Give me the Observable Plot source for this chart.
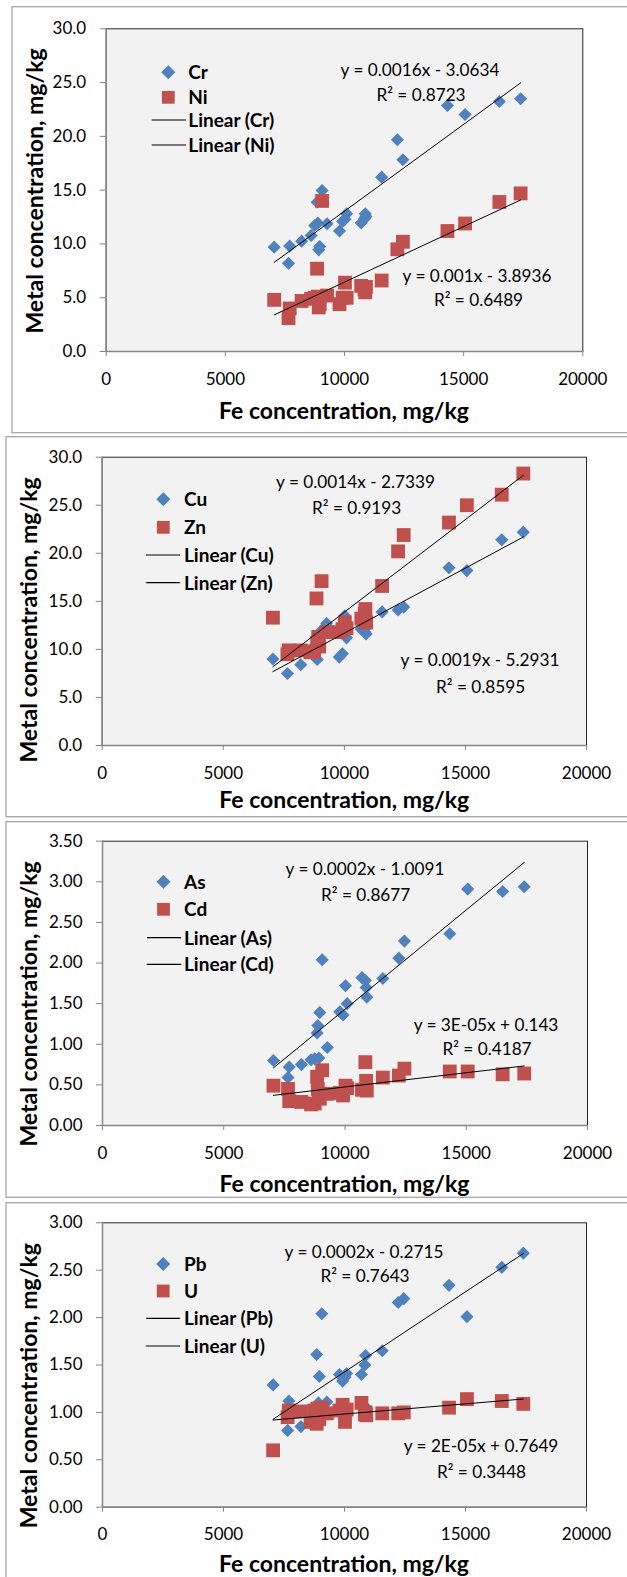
<!DOCTYPE html>
<html>
<head>
<meta charset="utf-8">
<script src="https://cdn.jsdelivr.net/npm/d3@7"></script>
<script src="https://cdn.jsdelivr.net/npm/@observablehq/plot@0.6"></script>
<style>
html, body { margin: 0; padding: 0; background: #fff; overflow: hidden; }
#page { position: relative; width: 627px; height: 1577px; overflow: hidden; font-family: Lato, sans-serif; }
#page g[aria-label="x-axis tick label"] text, #page g[aria-label="y-axis tick label"] text,
#page g[aria-label="x-axis tick label"], #page g[aria-label="y-axis tick label"] { font-size: 17px; }
</style>
</head>
<body>
<div id="page"></div>
<script>
// ---- data ----
const fe = [7050, 7650, 7700, 8200, 8600, 8750, 8850, 8880, 8920, 8960, 9060, 9270, 9790, 9920, 10020, 10090, 10700, 10840, 10870, 10900, 11560, 12220, 12450, 14320, 15060, 16500, 17390];
const cr = [9.70, 8.20, 9.80, 10.26, 10.79, 11.71, 13.88, 11.93, 9.45, 9.76, 14.97, 11.87, 11.20, 12.10, 12.30, 12.80, 11.95, 12.35, 12.80, 12.55, 16.21, 19.68, 17.82, 22.87, 22.03, 23.24, 23.49];
const ni = [4.8, 3.1, 4.0, 4.7, 4.9, 5.0, 7.7, 5.1, 4.1, 4.4, 14.0, 5.2, 4.4, 5.0, 6.4, 5.0, 6.1, 5.8, 5.5, 6.0, 6.6, 9.5, 10.2, 11.2, 11.9, 13.9, 14.7];
const cu = [9.0, 7.5, 9.6, 8.4, 9.9, 10.2, 10.6, 8.95, 11.5, 11.0, 12.0, 12.7, 9.2, 9.55, 13.5, 11.2, 12.1, 11.8, 12.2, 11.6, 13.9, 14.1, 14.4, 18.5, 18.2, 21.4, 22.2];
const zn = [13.3, 9.5, 9.9, 9.9, 9.7, 9.8, 15.3, 10.7, 11.3, 10.3, 17.1, 11.8, 11.8, 12.1, 12.8, 12.2, 13.2, 13.7, 14.2, 12.8, 16.6, 20.2, 21.9, 23.2, 25.0, 26.1, 28.3];
const arsenic = [0.80, 0.59, 0.72, 0.75, 0.81, 0.82, 1.14, 1.23, 0.83, 1.39, 2.04, 0.96, 1.40, 1.36, 1.72, 1.50, 1.82, 1.785, 1.70, 1.58, 1.81, 2.06, 2.27, 2.36, 2.91, 2.88, 2.94];
const cd = [0.49, 0.45, 0.30, 0.29, 0.26, 0.27, 0.60, 0.45, 0.39, 0.33, 0.68, 0.39, 0.40, 0.37, 0.49, 0.46, 0.44, 0.78, 0.55, 0.43, 0.59, 0.615, 0.70, 0.665, 0.665, 0.63, 0.64];
const pb = [1.29, 0.81, 1.12, 0.85, 0.95, 1.00, 1.61, 1.08, 1.10, 1.38, 2.04, 1.11, 1.40, 1.33, 1.37, 1.41, 1.40, 1.50, 1.60, 1.05, 1.65, 2.16, 2.20, 2.34, 2.01, 2.53, 2.68];
const u = [0.60, 0.95, 1.02, 1.01, 0.90, 1.02, 0.88, 1.04, 1.00, 0.93, 1.05, 0.99, 1.02, 1.08, 0.90, 1.03, 1.10, 0.98, 1.00, 0.97, 0.99, 0.99, 1.00, 1.05, 1.14, 1.12, 1.09];

const seriesNames = [["Cr", "Ni"], ["Cu", "Zn"], ["As", "Cd"], ["Pb", "U"]];
const seriesValues = [[cr, ni], [cu, zn], [arsenic, cd], [pb, u]];
const xTicks = [0, 5000, 10000, 15000, 20000];
const yTicks = [[0, 5, 10, 15, 20, 25, 30], [0, 5, 10, 15, 20, 25, 30], [0, 0.5, 1, 1.5, 2, 2.5, 3, 3.5], [0, 0.5, 1, 1.5, 2, 2.5, 3]];
const yDecimals = [1, 1, 2, 2];
const eqLabels = [["y = 0.0016x - 3.0634", "y = 0.001x - 3.8936"], ["y = 0.0014x - 2.7339", "y = 0.0019x - 5.2931"], ["y = 0.0002x - 1.0091", "y = 3E-05x + 0.143"], ["y = 0.0002x - 0.2715", "y = 2E-05x + 0.7649"]];
const r2Labels = [["R² = 0.8723", "R² = 0.6489"], ["R² = 0.9193", "R² = 0.8595"], ["R² = 0.8677", "R² = 0.4187"], ["R² = 0.7643", "R² = 0.3448"]];
const xTitle = "Fe concentration, mg/kg";
const yTitle = "Metal concentration, mg/kg";

// ---- layout (pixels) ----
const BLUE = "#4F81BD", RED = "#C0504D";
const FONT = "Lato, sans-serif";
const layout = [
  { top: 0, h: 432, ml: 105.7, mr: 44.7, mt: 28.3, mb: 81, border: [12, 6.7, 432.7],
    legend: { cx: 168.3, rows: [72.3, 97.3, 120, 145], lx: [151.7, 186], tx: 188.3 },
    eq: [[420, 70, 421, 95], [477, 276, 478.5, 300]], xt: [344, 419.3], yt: [43.2, 191] },
  { top: 437, h: 380, ml: 101.7, mr: 41, mt: 19.7, mb: 72, border: [6, 436.7, 816.7],
    legend: { cx: 163.3, rows: [499.3, 527.3, 555, 582.7], lx: [146, 180], tx: 184 },
    eq: [[355.5, 481.7, 356.7, 507.7], [480, 660, 480.6, 686.7]], xt: [344.3, 808], yt: [36.8, 620] },
  { top: 822, h: 376, ml: 102, mr: 40, mt: 18.7, mb: 73, border: [6, 821.7, 1197.3],
    legend: { cx: 163.5, rows: [881.7, 909.3, 937.7, 964.3], lx: [147, 181], tx: 184 },
    eq: [[365, 869.3, 365.7, 895], [486, 1025, 487, 1049.3]], xt: [344.5, 1191.7], yt: [37, 1004] },
  { top: 1203, h: 374, ml: 102, mr: 41, mt: 19.3, mb: 70.3, border: [6, 1202.7, 1590],
    legend: { cx: 163.2, rows: [1264, 1291, 1318.3, 1346], lx: [146, 180], tx: 184 },
    eq: [[364, 1251.7, 365, 1276], [481, 1446, 481.5, 1471.7]], xt: [344, 1572.3], yt: [37, 1385.7] }
];

const page = document.getElementById("page");

layout.forEach((L, k) => {
  const blue = seriesValues[k][0].map((v, i) => ({ fe: fe[i], v, metal: seriesNames[k][0] }));
  const red = seriesValues[k][1].map((v, i) => ({ fe: fe[i], v, metal: seriesNames[k][1] }));
  const yMax = yTicks[k][yTicks[k].length - 1];
  const svg = Plot.plot({
    width: 627,
    height: L.h,
    marginLeft: L.ml, marginRight: L.mr, marginTop: L.mt, marginBottom: L.mb,
    style: { background: "transparent", fontFamily: FONT, fontSize: "17px", color: "#000", overflow: "visible" },
    x: { domain: [0, 20000] },
    y: { domain: [0, yMax] },
    marks: [
      Plot.frame({ fill: "#f2f2f2", stroke: "#262626", strokeWidth: 1 }),
      Plot.axisX({ ticks: xTicks, tickFormat: d => String(d), tickSize: 5, tickPadding: 16, stroke: "#868686", fill: "#000", fontSize: 17, label: null }),
      Plot.axisY({ ticks: yTicks[k], tickFormat: d => d.toFixed(yDecimals[k]), tickSize: 6, tickPadding: 14, stroke: "#868686", fill: "#000", fontSize: 17, label: null }),
      Plot.ruleY([0], { stroke: "#868686", strokeWidth: 1.5 }),
      Plot.ruleX([0], { stroke: "#868686", strokeWidth: 1.5 }),
      Plot.dot(blue, { x: "fe", y: "v", symbol: "diamond2", r: 5.9, fill: BLUE }),
      Plot.dot(red, { x: "fe", y: "v", symbol: "square", r: 7.8, fill: RED }),
      Plot.linearRegressionY(blue.concat(red), { x: "fe", y: "v", z: "metal", stroke: "#000", strokeWidth: 1, ci: 0 })
    ]
  });
  svg.style.position = "absolute";
  svg.style.left = "0px";
  svg.style.top = L.top + "px";
  page.appendChild(svg);
});

// ---- overlay: chart borders, legends, equations, axis titles ----
const ov = d3.select(page).append("svg")
  .attr("width", 627).attr("height", 1577)
  .style("position", "absolute").style("left", "0px").style("top", "0px")
  .style("font-family", FONT);

layout.forEach((L, k) => {
  const [bx, by0, by1] = L.border;
  ov.append("rect").attr("x", bx).attr("y", by0).attr("width", 660 - bx).attr("height", by1 - by0)
    .attr("fill", "none").attr("stroke", "#a6a6a6").attr("stroke-width", 1.3);

  // legend
  const g = L.legend;
  const hd = 7;
  ov.append("path")
    .attr("d", `M${g.cx},${g.rows[0] - hd}L${g.cx + hd},${g.rows[0]}L${g.cx},${g.rows[0] + hd}L${g.cx - hd},${g.rows[0]}Z`)
    .attr("fill", BLUE);
  const sq = 12.8;
  ov.append("rect").attr("x", g.cx - sq / 2).attr("y", g.rows[1] - sq / 2).attr("width", sq).attr("height", sq).attr("fill", RED);
  [2, 3].forEach(j => ov.append("line").attr("x1", g.lx[0]).attr("x2", g.lx[1]).attr("y1", g.rows[j]).attr("y2", g.rows[j])
    .attr("stroke", "#000").attr("stroke-width", 1.2));
  const legendTexts = [seriesNames[k][0], seriesNames[k][1], `Linear (${seriesNames[k][0]})`, `Linear (${seriesNames[k][1]})`];
  legendTexts.forEach((t, j) => ov.append("text").attr("x", g.tx).attr("y", g.rows[j]).attr("dy", "0.36em")
    .attr("font-size", 19).attr("font-weight", "bold").attr("fill", "#000").text(t));

  // equations
  L.eq.forEach((e, j) => {
    ov.append("text").attr("x", e[0]).attr("y", e[1]).attr("dy", "0.36em").attr("text-anchor", "middle")
      .attr("font-size", 17.2).attr("fill", "#000").text(eqLabels[k][j]);
    ov.append("text").attr("x", e[2]).attr("y", e[3]).attr("dy", "0.36em").attr("text-anchor", "middle")
      .attr("font-size", 17.2).attr("fill", "#000").text(r2Labels[k][j]);
  });

  // axis titles
  ov.append("text").attr("x", L.xt[0]).attr("y", L.xt[1]).attr("text-anchor", "middle")
    .attr("font-size", 23).attr("font-weight", "bold").attr("fill", "#000").text(xTitle);
  ov.append("text").attr("transform", `translate(${L.yt[0]},${L.yt[1]}) rotate(-90)`).attr("text-anchor", "middle")
    .attr("font-size", 23).attr("font-weight", "bold").attr("fill", "#000").text(yTitle);
});
</script>
</body>
</html>
